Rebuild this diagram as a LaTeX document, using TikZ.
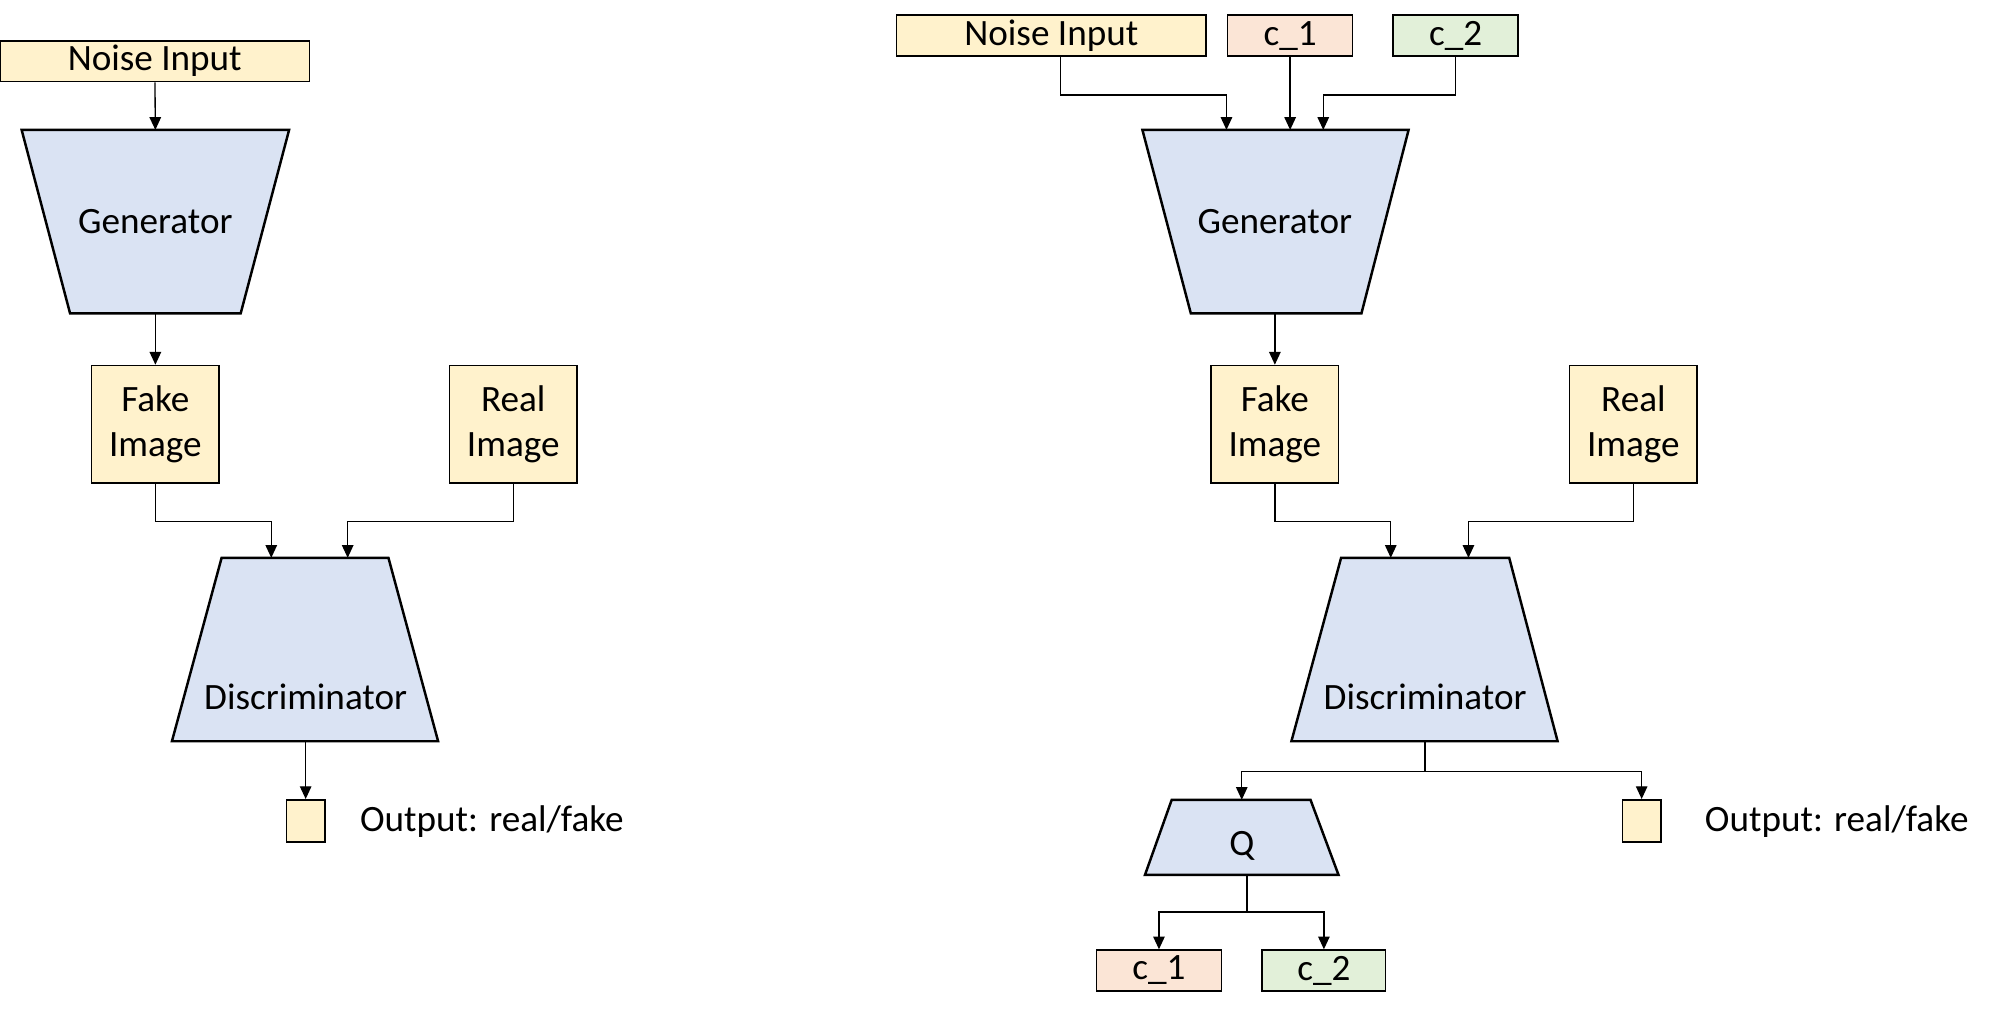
\documentclass[tikz,border=0pt]{standalone}
\usepackage{fontspec}
\setmainfont{Carlito}
\usetikzlibrary{arrows.meta}
\definecolor{inyellow}{HTML}{FFF2CC}
\definecolor{netblue}{HTML}{DAE3F3}
\definecolor{cpeach}{HTML}{FBE5D6}
\definecolor{cgreen}{HTML}{E2F0D9}
\tikzset{
  box/.style={draw, line width=0.35pt, fill=inyellow, inner sep=0pt, align=center, font=\fontsize{8.3}{10}\selectfont},
  net/.style={draw, line width=0.55pt, fill=netblue},
  lbl/.style={inner sep=0pt, font=\fontsize{8.3}{10}\selectfont},
  conn/.style={line width=0.3pt, -{Triangle[length=1mm,width=0.9mm]}},
}
\begin{document}
\begin{tikzpicture}[x=0.01cm,y=-0.01cm]
\useasboundingbox (0,0) rectangle (1568,797.7);
% plain GAN
\node[box, minimum width=2.43cm, minimum height=0.32cm] (noiseA) at (121.5,48) {Noise Input};
\draw[net] (17,102) -- (227,102) -- (189,246) -- (55,246) -- cycle;
\node[lbl] (genA) at (122,174) {Generator};
\coordinate (genAin) at (122,102); \coordinate (genAout) at (122,246);
\draw[conn] (noiseA) -- (genAin);
\node[box, minimum width=1cm, minimum height=0.92cm] (fakeA) at (122,333) {Fake\\Image};
\node[box, minimum width=1cm, minimum height=0.92cm] (realA) at (403,333) {Real\\Image};
\draw[conn] (genAout) -- (fakeA);
\draw[net] (174,438) -- (305,438) -- (344,582) -- (135,582) -- cycle;
\node[lbl] (discA) at (240,547) {Discriminator};
\coordinate (discAinL) at (213,438); \coordinate (discAinR) at (273,438); \coordinate (discAout) at (240,582);
\draw[conn] (fakeA.south) -- ++(0,30) -| (discAinL);
\draw[conn] (realA.south) -- ++(0,30) -| (discAinR);
\node[box, minimum width=0.3cm, minimum height=0.33cm] (outA) at (240,644.5) {};
\draw[conn] (discAout) -- (outA);
\node[lbl, anchor=west] (outAtxt) at (282,645) {Output: real/fake};
% InfoGAN
\node[box, minimum width=2.43cm, minimum height=0.32cm] (noiseB) at (825.5,28) {Noise Input};
\node[box, fill=cpeach, minimum width=0.98cm, minimum height=0.32cm] (cOneB) at (1013,28) {c\_1};
\node[box, fill=cgreen, minimum width=0.98cm, minimum height=0.32cm] (cTwoB) at (1143,28) {c\_2};
\draw[net] (897,102) -- (1106,102) -- (1069,246) -- (935,246) -- cycle;
\node[lbl] (genB) at (1001,174) {Generator};
\coordinate (genBinL) at (963,102); \coordinate (genBinM) at (1013,102); \coordinate (genBinR) at (1039,102);
\coordinate (genBout) at (1001,246);
\draw[conn] (noiseB.south) ++(7,0) -- ++(0,30) -| (genBinL);
\draw[conn] (cOneB) -- (genBinM);
\draw[conn] (cTwoB.south) -- ++(0,30) -| (genBinR);
\node[box, minimum width=1cm, minimum height=0.92cm] (fakeB) at (1001,333) {Fake\\Image};
\node[box, minimum width=1cm, minimum height=0.92cm] (realB) at (1282.5,333) {Real\\Image};
\draw[conn] (genBout) -- (fakeB);
\draw[net] (1053,438) -- (1185,438) -- (1223,582) -- (1014,582) -- cycle;
\node[lbl] (discB) at (1119,547) {Discriminator};
\coordinate (discBinL) at (1092,438); \coordinate (discBinR) at (1153,438); \coordinate (discBout) at (1119,582);
\draw[conn] (fakeB.south) -- ++(0,30) -| (discBinL);
\draw[conn] (realB.south) -- ++(0,30) -| (discBinR);
\draw[net] (920,628) -- (1029,628) -- (1051,687) -- (899,687) -- cycle;
\node[lbl] (qB) at (975,664) {Q};
\coordinate (qBin) at (975,628); \coordinate (qBout) at (979,687);
\node[box, minimum width=0.3cm, minimum height=0.33cm] (outB) at (1289,644.5) {};
\node[lbl, anchor=west] (outBtxt) at (1338,645) {Output: real/fake};
\draw[conn] (discBout) -- ++(0,24) -| (qBin);
\draw[conn] (discBout) -- ++(0,24) -| (outB.north);
\node[box, fill=cpeach, minimum width=0.98cm, minimum height=0.32cm] (cOneC) at (910,762) {c\_1};
\node[box, fill=cgreen, minimum width=0.97cm, minimum height=0.32cm] (cTwoC) at (1039.5,762) {c\_2};
\draw[conn] (qBout) -- ++(0,29) -| (cOneC.north);
\draw[conn] (qBout) -- ++(0,29) -| (cTwoC.north);
\end{tikzpicture}
\end{document}
